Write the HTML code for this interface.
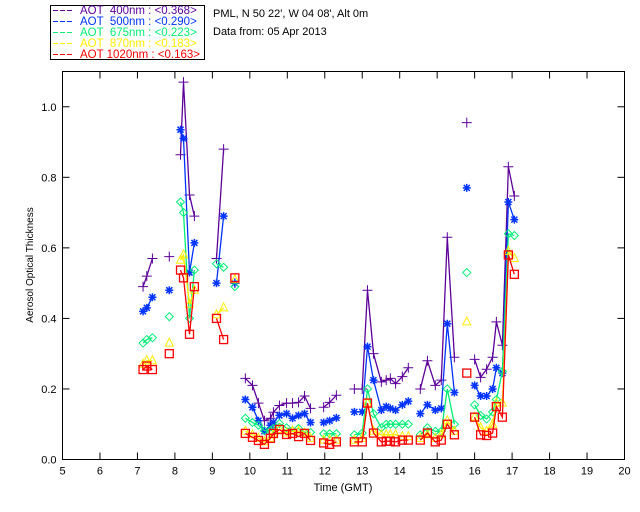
<!DOCTYPE html>
<html><head><meta charset="utf-8">
<style>
html,body{margin:0;padding:0;background:#fff;}
svg{display:block;font-family:"Liberation Sans",sans-serif;}
</style></head>
<body>
<svg id="chart" width="640" height="512" viewBox="0 0 640 512" xmlns="http://www.w3.org/2000/svg">
<rect x="0" y="0" width="640" height="512" fill="#fff"/>
<g>
<rect x="50.5" y="5.5" width="154" height="54" fill="#fff" stroke="#000"/>
<g id="legendRows"></g>
</g>
<text x="213" y="17" font-size="11">PML, N 50 22', W 04 08', Alt 0m</text>
<text x="213" y="35" font-size="11">Data from: 05 Apr 2013</text>
<rect x="62.5" y="71.5" width="562" height="388" fill="none" stroke="#000"/>
<g id="axes"></g>
<g id="marks"></g>
<text x="343" y="491" font-size="11" text-anchor="middle">Time (GMT)</text>
<text transform="translate(33,265) rotate(-90)" font-size="10" text-anchor="middle">Aerosol Optical Thickness</text>
</svg>
<script>
// data (null = break in the line)
const times = [7.15,7.25,7.4,null,7.85,null,8.15,8.23,8.39,8.52,null,9.11,9.3,null,9.6,null,
 9.88,10.07,10.23,10.39,10.55,10.63,10.79,10.98,11.14,11.30,11.46,11.62,null,
 11.97,12.13,12.31,null,
 12.79,13.0,13.14,13.30,13.51,13.64,13.75,13.89,14.07,14.23,null,
 14.55,14.74,14.95,15.11,15.27,15.46,null,15.79,null,
 16.0,16.16,16.32,16.48,16.58,16.74,16.9,17.06];
const aot400 = [0.49,0.52,0.57,null,0.575,null,0.864,1.07,0.75,0.69,null,0.57,0.88,null,0.5,null,
 0.23,0.21,0.16,0.11,0.117,0.134,0.153,0.16,0.16,0.162,0.18,0.145,null,
 0.148,0.162,0.182,null,
 0.2,0.2,0.48,0.3,0.22,0.225,0.23,0.215,0.235,0.26,null,
 0.2,0.28,0.21,0.225,0.63,0.29,null,0.955,null,
 0.284,0.233,0.256,0.29,0.39,0.324,0.83,0.747];
const aot500 = [0.42,0.43,0.46,null,0.48,null,0.935,0.91,0.53,0.614,null,0.5,0.69,null,0.5,null,
 0.17,0.148,0.11,0.08,0.097,0.105,0.125,0.13,0.117,0.125,0.13,0.105,null,
 0.105,0.11,0.118,null,
 0.135,0.135,0.32,0.225,0.14,0.15,0.145,0.14,0.155,0.165,null,
 0.13,0.155,0.14,0.145,0.385,0.19,null,0.77,null,
 0.21,0.18,0.18,0.2,0.26,0.245,0.73,0.68];
const aot675 = [0.33,0.34,0.345,null,0.405,null,0.73,0.70,0.40,0.537,null,0.555,0.545,null,0.49,null,
 0.117,0.105,0.097,0.082,0.082,0.088,0.102,0.09,0.082,0.088,0.077,0.077,null,
 0.073,0.073,0.073,null,
 0.07,0.075,0.2,0.13,0.09,0.1,0.1,0.1,0.1,0.1,null,
 0.07,0.09,0.08,0.08,0.2,0.1,null,0.53,null,
 0.155,0.125,0.115,0.135,0.17,0.25,0.64,0.635];
const aot870 = [0.27,0.28,0.28,null,0.33,null,0.565,0.58,0.44,0.48,null,0.41,0.43,null,0.51,null,
 0.08,0.07,0.06,0.05,0.06,0.07,0.085,0.075,0.08,0.08,0.075,0.06,null,
 0.055,0.055,0.055,null,
 0.055,0.06,0.16,0.08,0.07,0.07,0.07,0.07,0.065,0.065,null,
 0.06,0.07,0.06,0.07,0.11,0.08,null,0.39,null,
 0.12,0.09,0.08,0.1,0.16,0.16,0.59,0.57];
const aot1020 = [0.255,0.265,0.255,null,0.30,null,0.537,0.515,0.355,0.49,null,0.40,0.34,null,0.515,null,
 0.074,0.063,0.054,0.043,0.06,0.074,0.085,0.071,0.074,0.065,0.074,0.054,null,
 0.047,0.043,0.05,null,
 0.05,0.05,0.16,0.075,0.05,0.052,0.052,0.05,0.055,0.055,null,
 0.055,0.075,0.05,0.055,0.1,0.07,null,0.245,null,
 0.12,0.07,0.068,0.075,0.15,0.12,0.58,0.525];
const xTicks = [5,6,7,8,9,10,11,12,13,14,15,16,17,18,19,20];
const yTicks = [0.0,0.2,0.4,0.6,0.8,1.0];
const yTickLabels = ["0.0","0.2","0.4","0.6","0.8","1.0"];
const legendLabels = ["AOT  400nm : <0.368>","AOT  500nm : <0.290>","AOT  675nm : <0.223>","AOT  870nm : <0.183>","AOT 1020nm : <0.163>"];

const NS="http://www.w3.org/2000/svg";
const X0=62.5,X1=624.5,Y0=459.5,Y1=71.5;
const xs=t=>X0+(t-5)/15*(X1-X0);
const ys=v=>Y0-v/1.1*(Y0-Y1);
function mk(tag,attrs,parent){const e=document.createElementNS(NS,tag);for(const k in attrs)e.setAttribute(k,attrs[k]);parent.appendChild(e);return e;}

const axes=document.getElementById('axes');
xTicks.forEach(t=>{
  const x=xs(t);
  const a=mk('line',{x1:x,x2:x,y1:Y0,y2:Y0-7,stroke:'#000'},axes);
  
  
  const b=mk('line',{x1:x,x2:x,y1:Y1,y2:Y1+7,stroke:'#000'},axes);
  
  
  const l=mk('text',{x:x,y:Y0+15,'font-size':11,'text-anchor':'middle'},axes);
  l.textContent=t;
  
  
});
yTicks.forEach((v,i)=>{
  const y=ys(v);
  const a=mk('line',{x1:X0,x2:X0+7,y1:y,y2:y,stroke:'#000'},axes);
  
  
  const b=mk('line',{x1:X1,x2:X1-7,y1:y,y2:y,stroke:'#000'},axes);
  
  
  const l=mk('text',{x:X0-6,y:y+4,'font-size':11,'text-anchor':'end'},axes);
  l.textContent=yTickLabels[i];
  
  
});

const series=[
 {name:'aot-400',vals:aot400,color:'#5c0099',m:'plus'},
 {name:'aot-500',vals:aot500,color:'#0033ff',m:'star'},
 {name:'aot-675',vals:aot675,color:'#00ee77',m:'diamond'},
 {name:'aot-870',vals:aot870,color:'#ffee00',m:'tri'},
 {name:'aot-1020',vals:aot1020,color:'#ff0000',m:'square'}
];
const marks=document.getElementById('marks');
function marker(g,type,x,y,c){
  let e;
  if(type==='plus'){e=mk('path',{d:`M${x-5},${y}H${x+5}M${x},${y-5}V${y+5}`,stroke:c,fill:'none'},g);}
  else if(type==='star'){e=mk('path',{d:`M${x-4},${y}H${x+4}M${x},${y-4}V${y+4}M${x-3},${y-3}L${x+3},${y+3}M${x-3},${y+3}L${x+3},${y-3}`,stroke:c,'stroke-width':1.5,fill:'none'},g);}
  else if(type==='diamond'){e=mk('path',{d:`M${x},${y-4}L${x+4},${y}L${x},${y+4}L${x-4},${y}Z`,stroke:c,fill:'none'},g);}
  else if(type==='tri'){e=mk('path',{d:`M${x},${y-5}L${x+4},${y+3}L${x-4},${y+3}Z`,stroke:c,fill:'none'},g);}
  else {e=mk('rect',{x:x-4,y:y-4,width:8,height:8,stroke:c,'stroke-width':1.3,fill:'none'},g);}
  
  
}
series.forEach(s=>{
  const g=mk('g',{},marks);
  
  
  let d='',pen=false;
  times.forEach((t,i)=>{
    const v=s.vals[i];
    if(t===null||v===null||v===undefined){pen=false;return;}
    d+=(pen?'L':'M')+xs(t).toFixed(1)+','+ys(v).toFixed(1);
    pen=true;
  });
  const p=mk('path',{d:d,stroke:s.color,fill:'none','stroke-width':1.3},g);
  
  
  times.forEach((t,i)=>{
    const v=s.vals[i];
    if(t===null||v===null||v===undefined)return;
    marker(g,s.m,xs(t),ys(v),s.color);
  });
});

const lr=document.getElementById('legendRows');
series.forEach((s,i)=>{
  const y=14+i*11;
  const ln=mk('line',{x1:53,x2:73,y1:y-3.5,y2:y-3.5,stroke:s.color,'stroke-dasharray':'5,2'},lr);
  
  
  const tx=mk('text',{x:80,y:y,'font-size':11.5,fill:s.color,'xml:space':'preserve'},lr);
  tx.style.whiteSpace='pre';
  tx.textContent=legendLabels[i];
  
  
});
</script>
</body></html>
